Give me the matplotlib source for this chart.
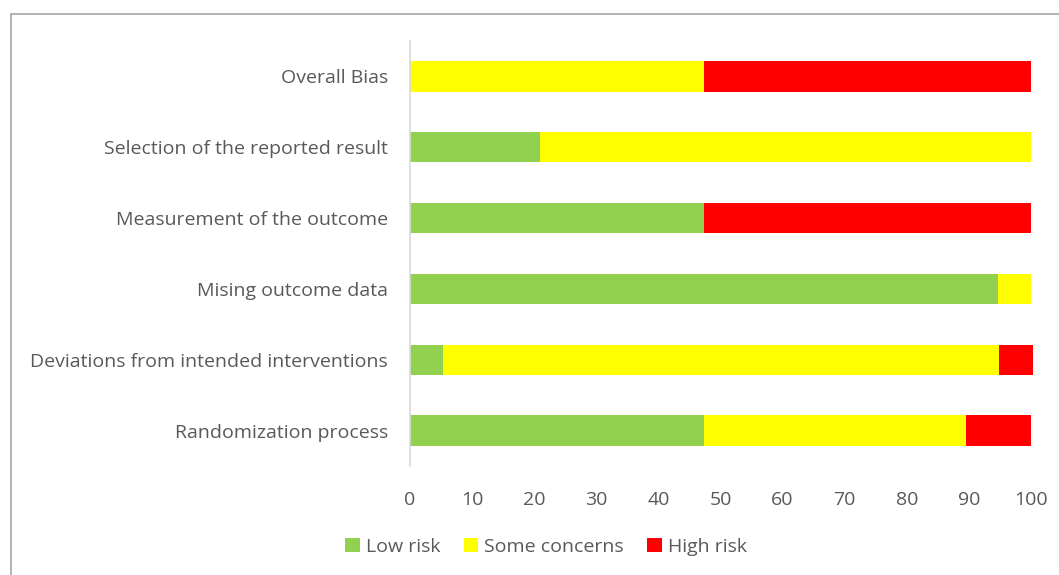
import numpy as np
import matplotlib
matplotlib.use("Agg")
from matplotlib import pyplot as plt
from matplotlib.patches import Rectangle

categories = ["Randomization process",
              "Deviations from intended interventions",
              "Mising outcome data",
              "Measurement of the outcome",
              "Selection of the reported result",
              "Overall Bias"]
low_risk = [47.4, 5.3, 94.7, 47.4, 21.0, 0.0]
some_concerns = [42.1, 89.5, 5.3, 0.0, 79.0, 47.4]
high_risk = [10.5, 5.5, 0.0, 52.6, 0.0, 52.6]
ticks = [0, 10, 20, 30, 40, 50, 60, 70, 80, 90, 100]

text_color = "#595959"
plt.rcParams["font.family"] = ["Open Sans", "DejaVu Sans"]

W, H = 1059, 575
fig = plt.figure(figsize=(W / 100, H / 100), dpi=100)
fig.patches.append(Rectangle((11 / W, -0.1), 1.2, 1 - 14 / H + 0.1,
                             transform=fig.transFigure, fill=False,
                             edgecolor="#A6A6A6", linewidth=1.2))

ax = fig.add_axes([410 / W, 1 - 466 / H, (1031 - 410) / W, (466 - 41) / H])
y = np.arange(len(categories))
low = np.array(low_risk)
some = np.array(some_concerns)
high = np.array(high_risk)
bh = 0.43
for vals, left, col, lab in [(low, 0, "#92D050", "Low risk"),
                             (some, low, "#FFFF00", "Some concerns"),
                             (high, low + some, "#FF0000", "High risk")]:
    bars = ax.barh(y, vals, left=left, height=bh, color=col, label=lab)
    for b in bars:
        b.set_clip_on(False)

ax.set_xlim(0, 100)
ax.set_ylim(-0.5, len(categories) - 0.5)
ax.set_xticks(ticks)
ax.set_yticks(y)
ax.set_yticklabels(categories)
for s in ["top", "right", "bottom"]:
    ax.spines[s].set_visible(False)
ax.spines["left"].set_color("#D9D9D9")
ax.spines["left"].set_linewidth(1.2)
ax.tick_params(axis="both", length=0, labelsize=14, colors=text_color)
ax.tick_params(axis="x", pad=18)
ax.tick_params(axis="y", pad=16)

fig.legend(loc="center", bbox_to_anchor=(546 / W, 1 - 547 / H), ncol=3,
           frameon=False, fontsize=14, labelcolor=text_color,
           handlelength=0.75, handleheight=0.75, handletextpad=0.3,
           columnspacing=1.2)

fig.savefig("out.png", dpi=100)
